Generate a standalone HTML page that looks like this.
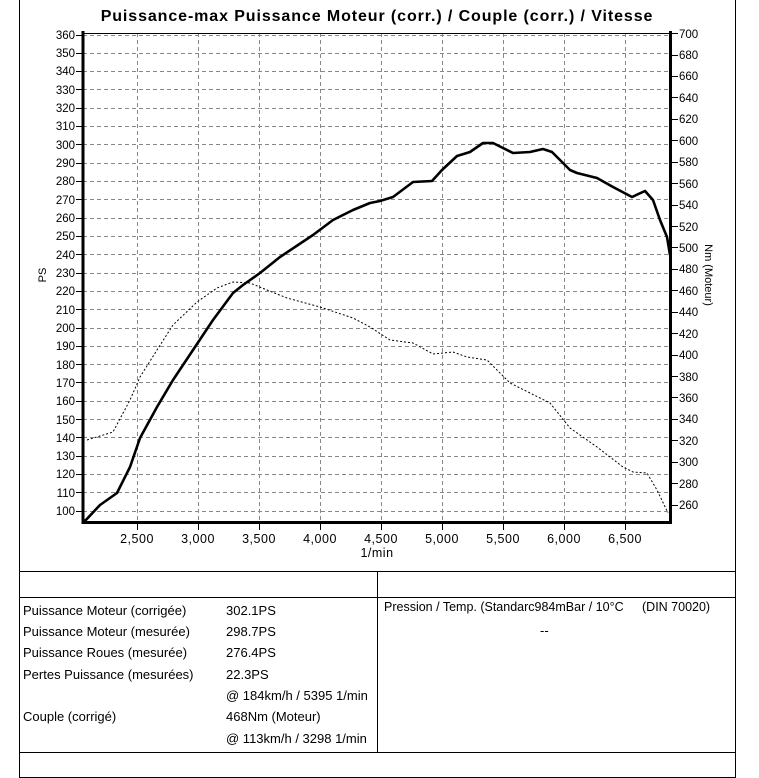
<!DOCTYPE html>
<html><head><meta charset="utf-8"><style>
html,body{margin:0;padding:0;background:#fff;}
svg{display:block;font-family:"Liberation Sans",Arial,sans-serif;}
</style></head><body>
<svg width="759" height="778" viewBox="0 0 759 778" xmlns="http://www.w3.org/2000/svg">
<rect width="759" height="778" fill="#fff"/>
<g stroke="#000" stroke-width="1" fill="none" shape-rendering="crispEdges">
<line x1="19.5" y1="0" x2="19.5" y2="777"/>
<line x1="735.5" y1="0" x2="735.5" y2="777"/>
<line x1="19" y1="571.5" x2="736" y2="571.5"/>
<line x1="19" y1="597.5" x2="736" y2="597.5"/>
<line x1="19" y1="752.5" x2="736" y2="752.5"/>
<line x1="19" y1="777.5" x2="736" y2="777.5"/>
<line x1="377.5" y1="571" x2="377.5" y2="752"/>
</g>
<text x="377" y="21" font-size="16" font-weight="bold" letter-spacing="0.9" text-anchor="middle">Puissance-max Puissance Moteur (corr.) / Couple (corr.) / Vitesse</text>
<g stroke="#888" stroke-width="1" stroke-dasharray="4,3" shape-rendering="crispEdges">
<path d="M83 35.5H670M83 53.5H670M83 71.5H670M83 89.5H670M83 108.5H670M83 126.5H670M83 144.5H670M83 163.5H670M83 181.5H670M83 199.5H670M83 218.5H670M83 236.5H670M83 254.5H670M83 273.5H670M83 291.5H670M83 309.5H670M83 328.5H670M83 346.5H670M83 364.5H670M83 382.5H670M83 401.5H670M83 419.5H670M83 437.5H670M83 456.5H670M83 474.5H670M83 492.5H670M83 511.5H670"/>
<path d="M137.5 33V522M198.5 33V522M259.5 33V522M320.5 33V522M381.5 33V522M442.5 33V522M503.5 33V522M564.5 33V522M625.5 33V522"/>
</g>
<g stroke="#000" fill="none" shape-rendering="crispEdges">
<line x1="83" y1="33.5" x2="671" y2="33.5" stroke-width="1"/>
<line x1="83" y1="31" x2="83" y2="524" stroke-width="3"/>
<line x1="670.5" y1="31" x2="670.5" y2="524" stroke-width="3"/>
<line x1="82" y1="522.5" x2="672" y2="522.5" stroke-width="3"/>
<path stroke-width="1" d="M76 35.5H82M76 53.5H82M76 71.5H82M76 89.5H82M76 108.5H82M76 126.5H82M76 144.5H82M76 163.5H82M76 181.5H82M76 199.5H82M76 218.5H82M76 236.5H82M76 254.5H82M76 273.5H82M76 291.5H82M76 309.5H82M76 328.5H82M76 346.5H82M76 364.5H82M76 382.5H82M76 401.5H82M76 419.5H82M76 437.5H82M76 456.5H82M76 474.5H82M76 492.5H82M76 511.5H82"/>
<path stroke-width="1" d="M672 33.5H678M672 55.5H678M672 76.5H678M672 97.5H678M672 119.5H678M672 140.5H678M672 162.5H678M672 183.5H678M672 205.5H678M672 226.5H678M672 247.5H678M672 269.5H678M672 290.5H678M672 312.5H678M672 333.5H678M672 355.5H678M672 376.5H678M672 397.5H678M672 419.5H678M672 440.5H678M672 462.5H678M672 483.5H678M672 505.5H678"/>
<path stroke-width="1" d="M137.5 524V530M198.5 524V530M259.5 524V530M320.5 524V530M381.5 524V530M442.5 524V530M503.5 524V530M564.5 524V530M625.5 524V530"/>
</g>
<g font-size="11.5" text-anchor="end">
<text x="75" y="39">360</text><text x="75" y="57">350</text><text x="75" y="75">340</text><text x="75" y="94">330</text><text x="75" y="112">320</text><text x="75" y="130">310</text><text x="75" y="149">300</text><text x="75" y="167">290</text><text x="75" y="185">280</text><text x="75" y="204">270</text><text x="75" y="222">260</text><text x="75" y="240">250</text><text x="75" y="259">240</text><text x="75" y="277">230</text><text x="75" y="295">220</text><text x="75" y="314">210</text><text x="75" y="332">200</text><text x="75" y="350">190</text><text x="75" y="369">180</text><text x="75" y="387">170</text><text x="75" y="405">160</text><text x="75" y="424">150</text><text x="75" y="442">140</text><text x="75" y="460">130</text><text x="75" y="478">120</text><text x="75" y="497">110</text><text x="75" y="515">100</text>
</g>
<g font-size="11.5">
<text x="679" y="38">700</text><text x="679" y="59">680</text><text x="679" y="80">660</text><text x="679" y="102">640</text><text x="679" y="123">620</text><text x="679" y="145">600</text><text x="679" y="166">580</text><text x="679" y="188">560</text><text x="679" y="209">540</text><text x="679" y="231">520</text><text x="679" y="252">500</text><text x="679" y="273">480</text><text x="679" y="295">460</text><text x="679" y="316">440</text><text x="679" y="338">420</text><text x="679" y="359">400</text><text x="679" y="381">380</text><text x="679" y="402">360</text><text x="679" y="423">340</text><text x="679" y="445">320</text><text x="679" y="466">300</text><text x="679" y="488">280</text><text x="679" y="509">260</text>
</g>
<g font-size="12.5" text-anchor="middle" letter-spacing="0.5">
<text x="137" y="543">2,500</text><text x="198" y="543">3,000</text><text x="259" y="543">3,500</text><text x="320" y="543">4,000</text><text x="381" y="543">4,500</text><text x="442" y="543">5,000</text><text x="503" y="543">5,500</text><text x="564" y="543">6,000</text><text x="625" y="543">6,500</text>
<text x="377" y="557">1/min</text>
</g>
<text font-size="11" text-anchor="middle" transform="translate(46,275) rotate(-90)">PS</text>
<text font-size="11" text-anchor="middle" transform="translate(705,275) rotate(90)">Nm (Moteur)</text>
<polyline fill="none" stroke="#000" stroke-width="1" stroke-dasharray="2,2" points="87,440 113,432 130,400 140,377 157,350 173,325 197,302 217,288 233,282 250,283 267,290 287,298 320,307 353,318 370,327 390,340 413,343 433,354 453,352 467,357 487,360 510,383 530,393 550,403 570,428 597,447 623,467 633,472 647,473 657,490 668,513"/>
<polyline fill="none" stroke="#000" stroke-width="2.6" stroke-linejoin="round" points="84,522 100,505 117,493 130,467 140,438 157,407 173,380 193,350 213,320 233,293 243,285 260,273 280,257 313,235 333,220 353,210 370,203 380,201 393,197 413,182 432,181 442,170 457,156 470,152 483,143 493,143 503,148 513,153 530,152 543,149 552,152 570,170 577,173 597,178 613,187 632,197 645,191 653,200 660,220 667,237 670,255"/>
<g font-size="13">
<text x="23" y="615">Puissance Moteur (corrigée)</text><text x="226" y="615">302.1PS</text>
<text x="23" y="636">Puissance Moteur (mesurée)</text><text x="226" y="636">298.7PS</text>
<text x="23" y="657">Puissance Roues (mesurée)</text><text x="226" y="657">276.4PS</text>
<text x="23" y="679">Pertes Puissance (mesurées)</text><text x="226" y="679">22.3PS</text>
<text x="226" y="700">@ 184km/h / 5395 1/min</text>
<text x="23" y="721">Couple (corrigé)</text><text x="226" y="721">468Nm (Moteur)</text>
<text x="226" y="743">@ 113km/h / 3298 1/min</text>
<text x="384" y="611" font-size="12.5">Pression / Temp. (Standarc984mBar / 10°C</text><text x="642" y="611" font-size="12.5">(DIN 70020)</text>
<text x="540" y="635">--</text>
</g>
</svg>
</body></html>
